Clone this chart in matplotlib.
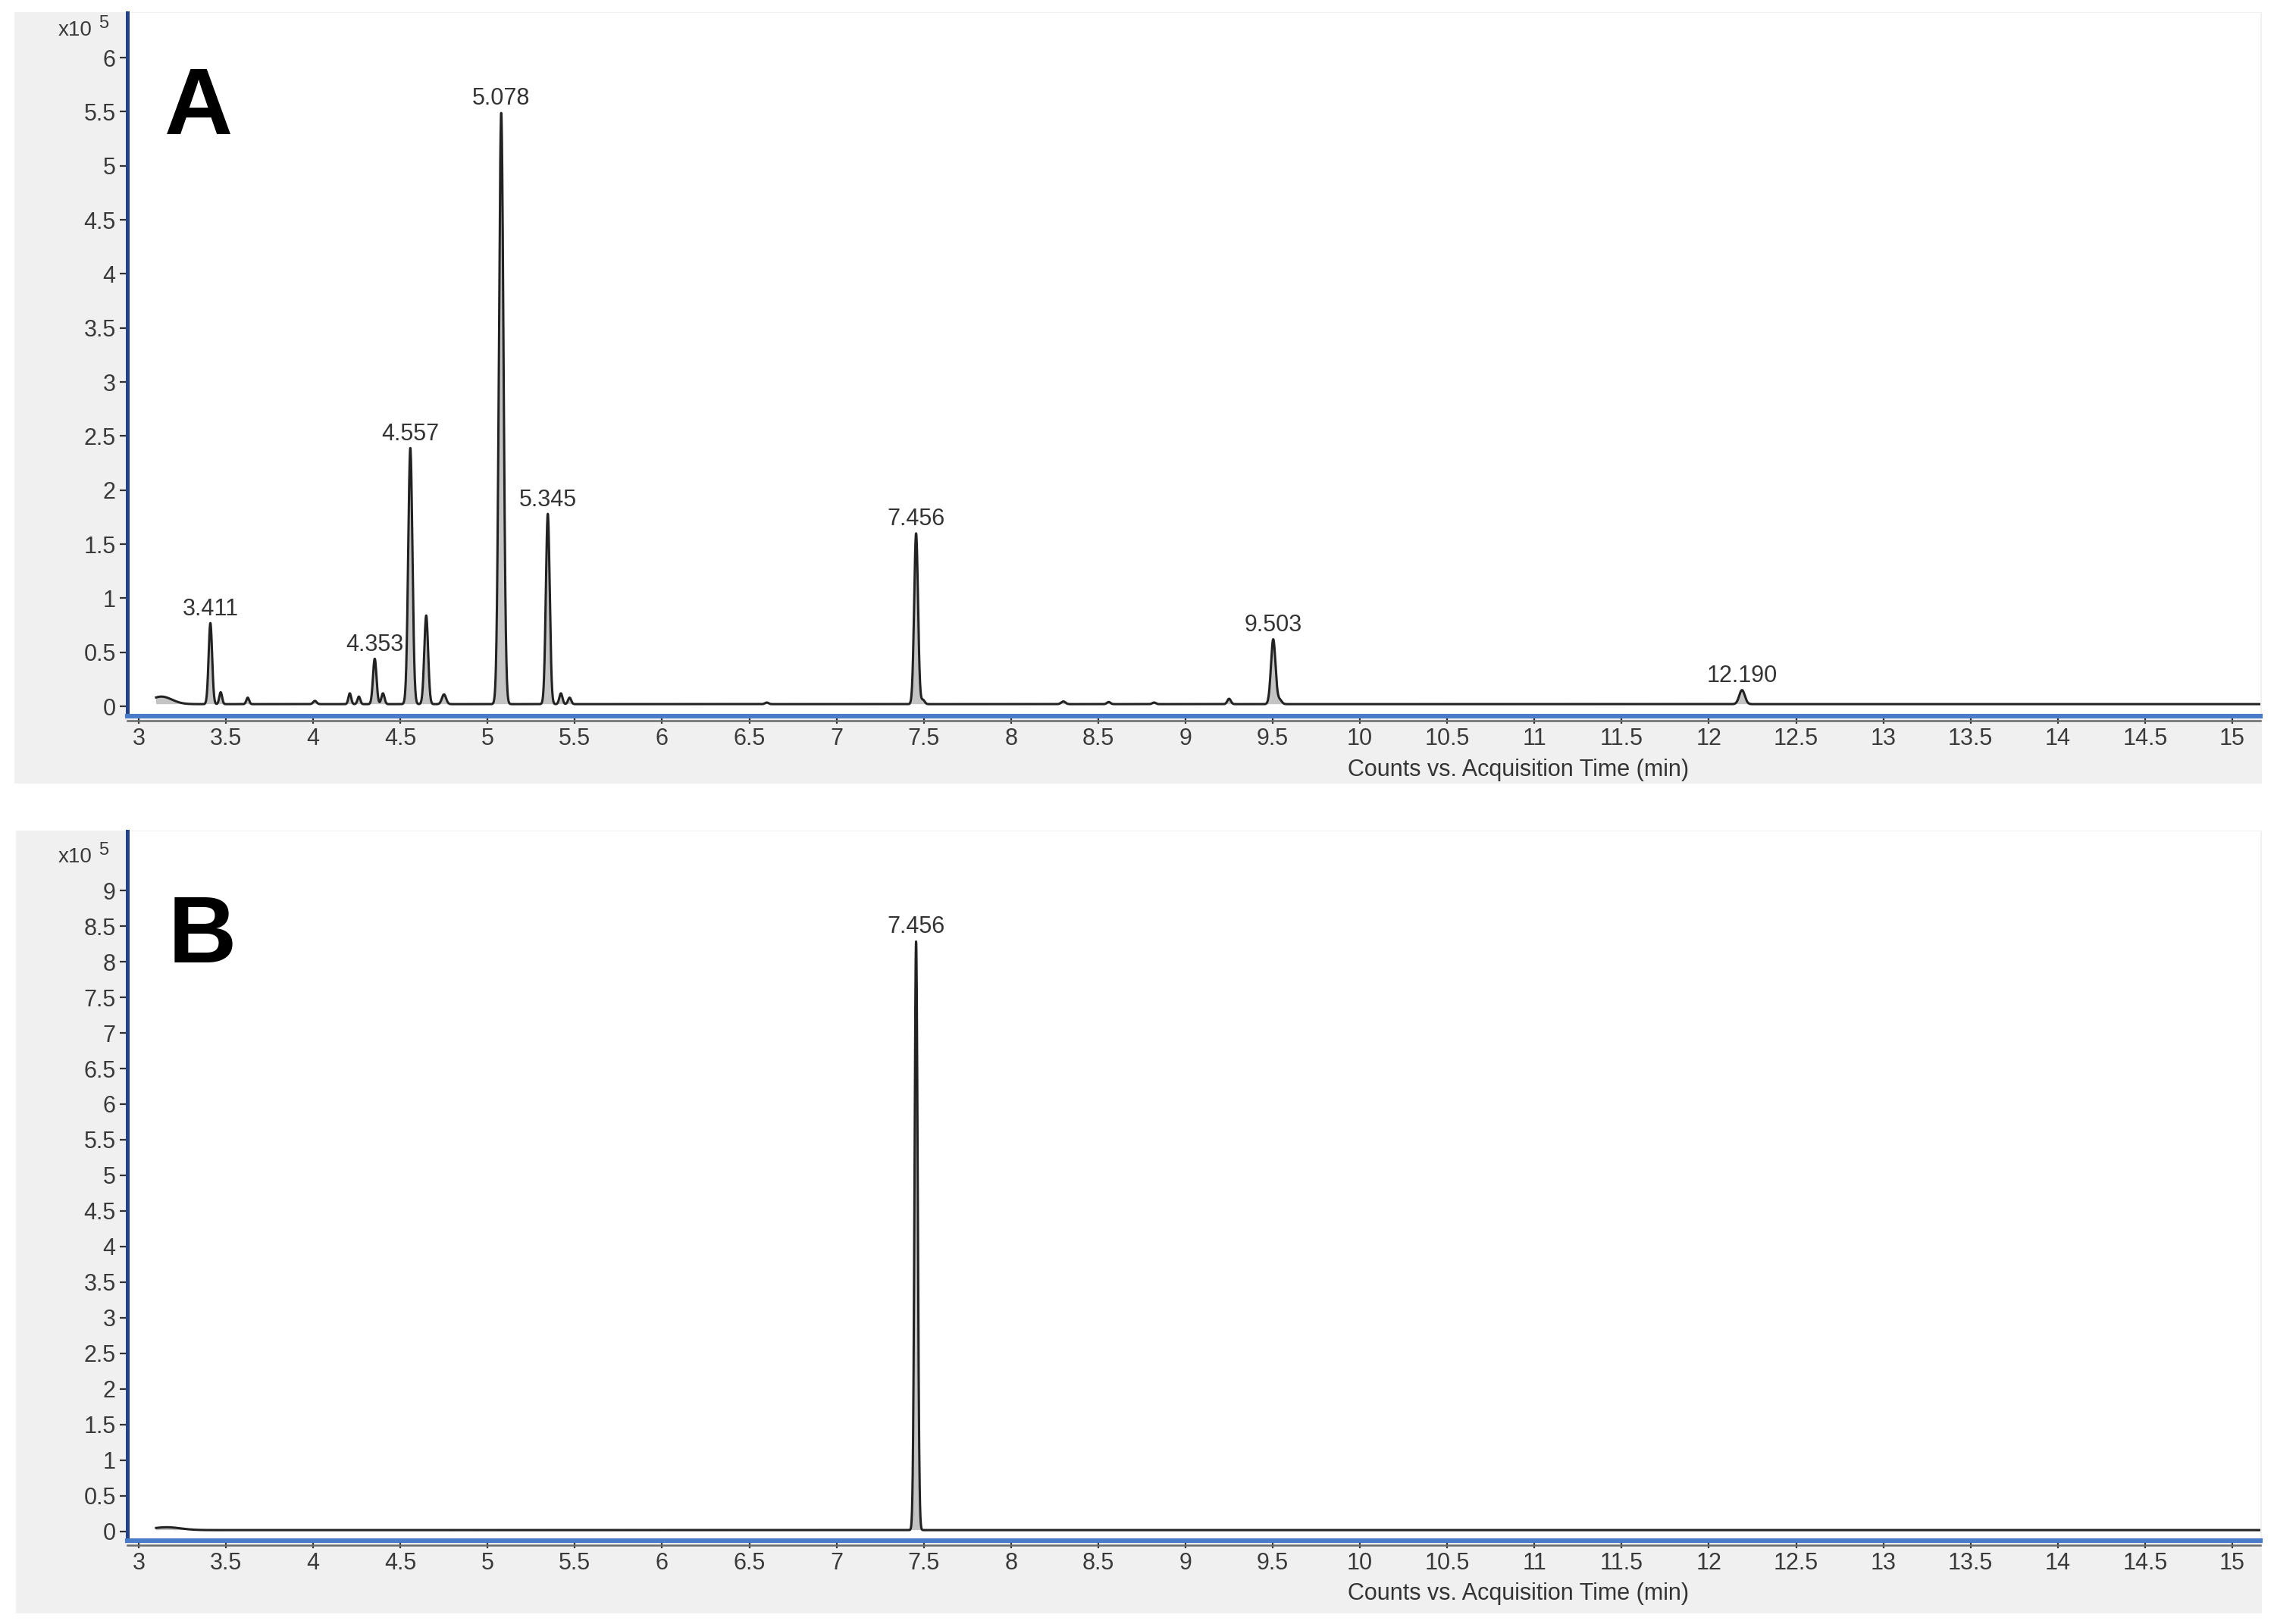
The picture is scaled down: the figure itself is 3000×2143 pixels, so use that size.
import numpy as np
import matplotlib.pyplot as plt
from matplotlib.patches import Rectangle
from matplotlib.transforms import offset_copy

plt.rcParams['font.family'] = ['Liberation Sans', 'DejaVu Sans']

# Panel A peak table (retention time min, height x10^5 counts, sigma min)
a_rt = [3.13, 3.411, 3.470, 3.625, 4.010, 4.210, 4.262, 4.353, 4.400, 4.557, 4.648,
        4.750, 5.078, 5.345, 5.420, 5.470, 6.60, 7.456, 7.495, 8.30, 8.56, 8.82,
        9.250, 9.503, 9.540, 12.190]
a_height = [0.07, 0.75, 0.11, 0.06, 0.03, 0.10, 0.07, 0.42, 0.10, 2.37, 0.82,
            0.09, 5.47, 1.76, 0.10, 0.06, 0.015, 1.58, 0.04, 0.025, 0.02, 0.015,
            0.05, 0.60, 0.04, 0.13]
a_sigma = [0.06, 0.010, 0.008, 0.008, 0.010, 0.008, 0.008, 0.010, 0.009, 0.012, 0.011,
           0.012, 0.013, 0.011, 0.009, 0.009, 0.010, 0.011, 0.010, 0.012, 0.010, 0.010,
           0.010, 0.013, 0.012, 0.016]
a_labeled = [3.411, 4.353, 4.557, 5.078, 5.345, 7.456, 9.503, 12.190]

# Panel B peak table
b_rt = [3.16, 7.456]
b_height = [0.04, 8.27]
b_sigma = [0.08, 0.009]
b_labeled = [7.456]

baseline = 0.02
x_ticks = np.arange(3, 15.01, 0.5)
a_yticks = np.arange(0, 6.01, 0.5)
b_yticks = np.arange(0, 9.01, 0.5)

W, H = 3000, 2143
fig = plt.figure(figsize=(15, 10.715), dpi=200)

def fx(px):
    return px / W

def fy(py):
    return 1 - py / H

# grey panel backgrounds
for (x0, y0, x1, y1) in [(20, 17, 2982, 1032), (22, 1097, 2982, 2127)]:
    fig.patches.append(Rectangle((fx(x0), fy(y1)), fx(x1 - x0), (y1 - y0) / H,
                                 transform=fig.transFigure, color='#f0f0f0', zorder=-5))

t = np.linspace(3.1, 15.17, 12000)

def trace(rt, height, sigma):
    y = np.full_like(t, baseline)
    for c, h, s in zip(rt, height, sigma):
        y += h * np.exp(-0.5 * ((t - c) / s) ** 2)
    return y

def tick_fmt(v):
    return ('%g' % v)

def setup(ax, ylim, yticks):
    ax.set_facecolor('white')
    ax.set_xlim(2.935, 15.161)
    ax.set_ylim(*ylim)
    ax.set_xticks(x_ticks)
    ax.set_xticklabels([tick_fmt(v) for v in x_ticks])
    ax.set_yticks(yticks)
    ax.set_yticklabels([tick_fmt(v) for v in yticks])
    for s in ['top', 'right']:
        ax.spines[s].set_visible(False)
    ax.spines['left'].set_color('#23428a')
    ax.spines['left'].set_linewidth(1.8)
    ax.spines['bottom'].set_color('#4a7bc8')
    ax.spines['bottom'].set_linewidth(2.2)
    ax.tick_params(axis='both', direction='out', length=3.5, width=0.8,
                   color='#333333', labelcolor='#3a3a3a', labelsize=11, pad=2)
    # dark rule under the blue axis band
    tr = offset_copy(ax.transAxes, fig=fig, x=0, y=-2.0, units='points')
    ax.plot([0, 1], [0, 0], transform=tr, color='#6a6a6a', lw=0.9, clip_on=False, zorder=5)

def draw(ax, rt, height, sigma, labeled):
    y = trace(rt, height, sigma)
    ax.fill_between(t, baseline, y, where=y > baseline + 0.01, color='#c4c4c4', lw=0)
    ax.plot(t, y, color='#222222', lw=1.1)
    for c in labeled:
        h = height[rt.index(c)] + baseline
        ax.annotate('%.3f' % c, xy=(c, h), xytext=(0, 1.2), textcoords='offset points',
                    ha='center', va='bottom', fontsize=11, color='#333333')

# Panel A
axA = fig.add_axes([fx(168), fy(945), fx(2982 - 168), (945 - 17) / H])
setup(axA, (-0.091, 6.414), a_yticks)
draw(axA, a_rt, a_height, a_sigma, a_labeled)

# Panel B
axB = fig.add_axes([fx(168), fy(2033), fx(2982 - 168), (2033 - 1097) / H])
setup(axB, (-0.128, 9.83), b_yticks)
draw(axB, b_rt, b_height, b_sigma, b_labeled)

# panel letters, multipliers and axis titles
fig.text(fx(262), fy(145), 'A', fontsize=45, fontweight='bold',
         ha='center', va='center')
fig.text(fx(267), fy(1238), 'B', fontsize=45, fontweight='bold',
         ha='center', va='center')
for top in [40, 1131]:
    fig.text(fx(122), fy(top), 'x10', fontsize=10, color='#3a3a3a', ha='right', va='center')
    fig.text(fx(130), fy(top - 9), '5', fontsize=8.5, color='#3a3a3a', ha='left', va='center')
for ylab in [1016, 2103]:
    fig.text(fx(2003), fy(ylab), 'Counts vs. Acquisition Time (min)', fontsize=11,
             color='#333333', ha='center', va='center')

plt.savefig('out.png', dpi=200)
